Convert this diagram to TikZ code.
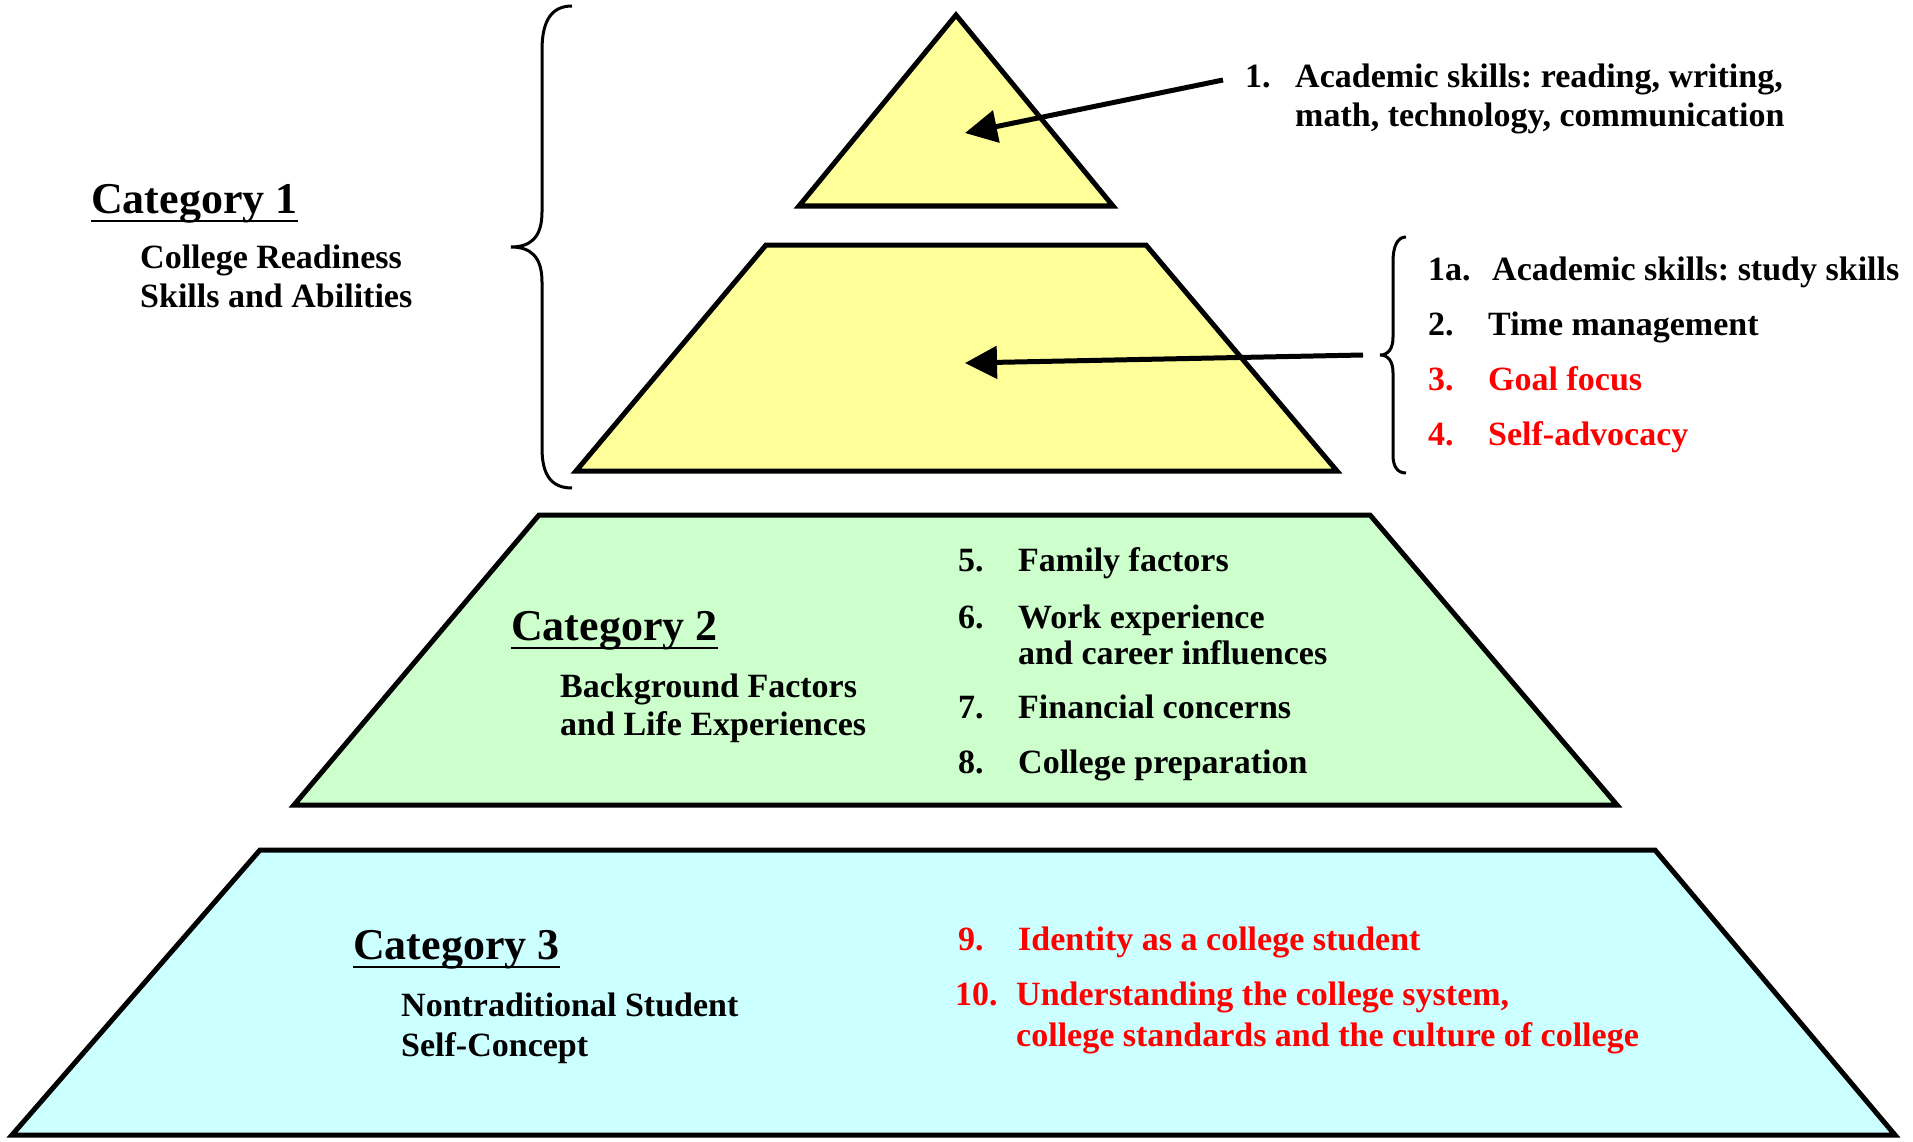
\documentclass[tikz,border=0pt]{standalone}
\usepackage{fontspec}
\setmainfont{Liberation Serif}
\usetikzlibrary{arrows.meta}
\definecolor{yel}{RGB}{255,255,153}
\definecolor{grn}{RGB}{204,255,204}
\definecolor{cyn}{RGB}{204,255,255}
\definecolor{redt}{RGB}{255,0,0}
\newcommand\mybody{\bfseries\fontsize{34}{40}\selectfont}
\newcommand\mycat{\bfseries\fontsize{44}{50}\selectfont}
\frenchspacing
\tikzset{
  txt/.style={anchor=base west, inner sep=0pt, font=\mybody},
  redtxt/.style={txt, text=redt},
  cat/.style={anchor=base west, inner sep=0pt, font=\mycat},
  uline/.style={line width=2.5pt},
  layer/.style={draw=black, line width=5pt, line join=miter},
  brace/.style={line width=3pt},
  pointer/.style={line width=5pt, -{Triangle[length=32pt,width=32pt]}},
}
\begin{document}
\begin{tikzpicture}[x=1pt,y=-1pt]
\useasboundingbox (0,0) rectangle (1913,1142);
% layers
\draw[layer, fill=yel] (956,15) -- (1113,206) -- (799,206) -- cycle;
\draw[layer, fill=yel] (766,245) -- (1146,245) -- (1337,471) -- (576,471) -- cycle;
\draw[layer, fill=grn] (539,515) -- (1370,515) -- (1617,805) -- (294,805) -- cycle;
\draw[layer, fill=cyn] (260,850) -- (1655,850) -- (1895,1135) -- (12,1135) -- cycle;
% braces
\draw[brace] (572,6) .. controls (552,6) and (542,20) .. (542,50) -- (542,212)
  .. controls (542,238) and (530,247) .. (511,247)
  .. controls (530,247) and (542,256) .. (542,282) -- (542,448)
  .. controls (542,476) and (552,488) .. (572,488);
\draw[brace] (1406,237) .. controls (1397,237) and (1393,247) .. (1393,262) -- (1393,337)
  .. controls (1393,349) and (1388,355) .. (1380,355)
  .. controls (1388,355) and (1393,361) .. (1393,373) -- (1393,455)
  .. controls (1393,466) and (1397,473) .. (1406,473);
% arrows
\coordinate (a1s) at (1223,80);
\coordinate (a1e) at (965,133);
\coordinate (a2s) at (1363,355);
\coordinate (a2e) at (965,363);
\draw[pointer] (a1s) -- (a1e);
\draw[pointer] (a2s) -- (a2e);
% Category 1
\node[cat] (c1) at (91,213) {Category 1};
\draw[uline] ([yshift=-8pt]c1.base west) -- ([yshift=-8pt]c1.base east);
\node[txt] (c1a) at (140,268) {College Readiness};
\node[txt] (c1b) at (140,307) {Skills and Abilities};
% item 1
\node[txt] (n1) at (1245,88) {1.};
\node[txt] (t1a) at (1295,88) {Academic skills: reading, writing,};
\node[txt] (t1b) at (1295,127) {math, technology, communication};
% items 1a-4
\node[txt] (n1x) at (1428,280) {1a.};
\node[txt] (t1x) at (1492,280) {Academic skills: study skills};
\node[txt] (n2) at (1428,335) {2.};
\node[txt] (t2) at (1488,335) {Time management};
\node[redtxt] (n3) at (1428,390) {3.};
\node[redtxt] (t3) at (1488,390) {Goal focus};
\node[redtxt] (n4) at (1428,445) {4.};
\node[redtxt] (t4) at (1488,445) {Self-advocacy};
% Category 2
\node[cat] (c2) at (511,640) {Category 2};
\draw[uline] ([yshift=-8pt]c2.base west) -- ([yshift=-8pt]c2.base east);
\node[txt] (c2a) at (560,697) {Background Factors};
\node[txt] (c2b) at (560,735) {and Life Experiences};
\node[txt] (n5) at (958,571) {5.};
\node[txt] (t5) at (1018,571) {Family factors};
\node[txt] (n6) at (958,628) {6.};
\node[txt] (t6a) at (1018,628) {Work experience};
\node[txt] (t6b) at (1018,664) {and career influences};
\node[txt] (n7) at (958,718) {7.};
\node[txt] (t7) at (1018,718) {Financial concerns};
\node[txt] (n8) at (958,773) {8.};
\node[txt] (t8) at (1018,773) {College preparation};
% Category 3
\node[cat] (c3) at (353,959) {Category 3};
\draw[uline] ([yshift=-8pt]c3.base west) -- ([yshift=-8pt]c3.base east);
\node[txt] (c3a) at (401,1016) {Nontraditional Student};
\node[txt] (c3b) at (401,1056) {Self-Concept};
\node[redtxt] (n9) at (958,950) {9.};
\node[redtxt] (t9) at (1018,950) {Identity as a college student};
\node[redtxt] (n10) at (955,1005) {10.};
\node[redtxt] (t10a) at (1016,1005) {Understanding the college system,};
\node[redtxt] (t10b) at (1016,1046) {college standards and the culture of college};
\end{tikzpicture}
\end{document}
